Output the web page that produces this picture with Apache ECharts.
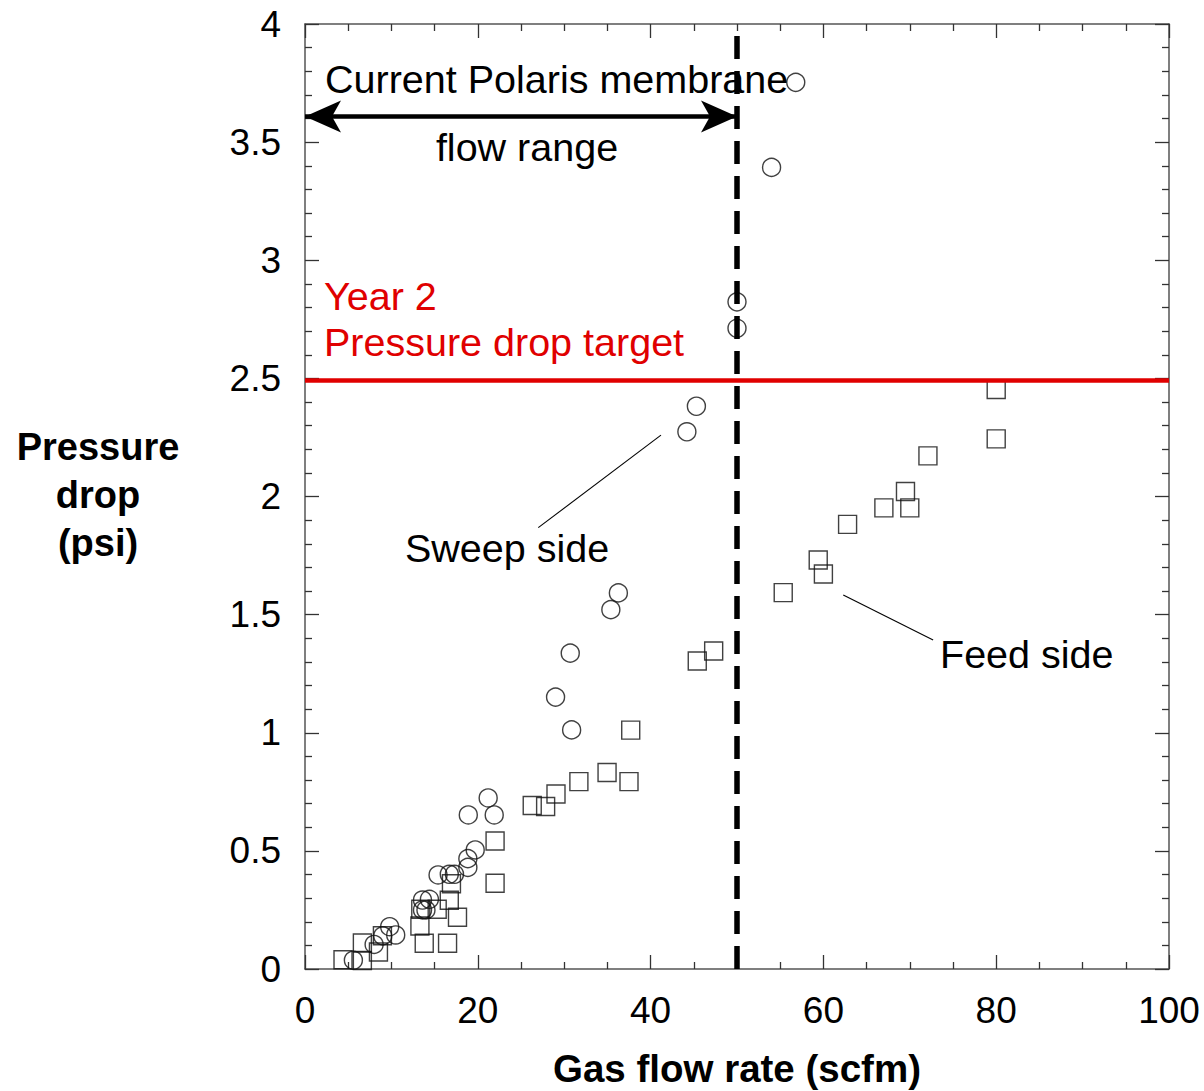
<!DOCTYPE html>
<html>
<head>
<meta charset="utf-8">
<script src="https://cdn.jsdelivr.net/npm/echarts@6/dist/echarts.min.js"></script>
<style>
html,body{margin:0;padding:0;background:#fff;}
#chart{width:1204px;height:1091px;}
</style>
</head>
<body>
<div id="chart"></div>
<script>
// ---- data ----
const sweepX = [5.6, 8.0, 9.0, 9.8, 10.5, 13.6, 14.4, 13.6, 14.0, 15.4, 16.7, 17.3, 18.85, 18.85, 19.7, 18.9, 21.9, 21.2, 30.86, 29.0, 30.7, 35.4, 36.27, 44.2, 45.3, 50.0, 50.0, 54.0, 56.8];
const sweepY = [0.037, 0.104, 0.14, 0.179, 0.144, 0.292, 0.295, 0.25, 0.25, 0.398, 0.401, 0.401, 0.43, 0.467, 0.504, 0.652, 0.652, 0.724, 1.012, 1.151, 1.337, 1.521, 1.592, 2.274, 2.382, 2.712, 2.824, 3.393, 3.753];
const feedX = [4.4, 6.64, 6.64, 8.5, 8.96, 13.3, 13.4, 15.3, 13.8, 16.5, 17.65, 16.7, 16.95, 22.0, 22.0, 26.3, 27.85, 29.05, 31.7, 34.96, 37.5, 37.7, 45.4, 47.3, 55.35, 59.4, 60.0, 62.8, 67.0, 70.0, 69.5, 72.1, 80.0, 80.0];
const feedY = [0.039, 0.036, 0.11, 0.072, 0.141, 0.182, 0.253, 0.253, 0.109, 0.109, 0.219, 0.291, 0.361, 0.363, 0.542, 0.692, 0.688, 0.741, 0.793, 0.832, 0.793, 1.011, 1.304, 1.346, 1.593, 1.731, 1.672, 1.882, 1.952, 1.952, 2.021, 2.172, 2.244, 2.453];
const targetY = 2.49;          // Year 2 pressure drop target
const currentRangeMax = 50;    // current Polaris membrane flow range limit
const arrowY = 3.608;
const sweepLeader = [[27.0, 1.868], [41.2, 2.26]];
const feedLeader = [[62.3, 1.583], [72.7, 1.393]];
const xTicks = [0, 20, 40, 60, 80, 100];
const yTicks = [0, 0.5, 1, 1.5, 2, 2.5, 3, 3.5, 4];

// ---- chart ----
const FONT = "'Liberation Sans', Arial, Helvetica, sans-serif";
const chart = echarts.init(document.getElementById('chart'), null, {renderer: 'svg'});
const axisLineStyle = {color: '#555', width: 1.5};
function xAxisCfg(pos, showLabel) {
  return {
    type: 'value', position: pos, min: xTicks[0], max: xTicks[xTicks.length - 1], interval: 20,
    axisLine: {show: true, onZero: false, lineStyle: axisLineStyle},
    axisTick: {show: true, inside: true, length: 14, lineStyle: {color: '#333', width: 1.3}},
    minorTick: {show: true, splitNumber: 4, length: 7, lineStyle: {color: '#333', width: 1.3}},
    splitLine: {show: false},
    axisLabel: {show: showLabel, fontSize: 37, fontFamily: FONT, color: '#000', margin: 23}
  };
}
function yAxisCfg(pos, showLabel) {
  return {
    type: 'value', position: pos, min: yTicks[0], max: yTicks[yTicks.length - 1], interval: 0.5,
    axisLine: {show: true, onZero: false, lineStyle: axisLineStyle},
    axisTick: {show: true, inside: true, length: 14, lineStyle: {color: '#333', width: 1.3}},
    minorTick: {show: true, splitNumber: 5, length: 7, lineStyle: {color: '#333', width: 1.3}},
    splitLine: {show: false},
    axisLabel: {show: showLabel, fontSize: 37, fontFamily: FONT, color: '#000', margin: 24}
  };
}
const sweepData = sweepX.map((x, i) => [x, sweepY[i]]);
const feedData = feedX.map((x, i) => [x, feedY[i]]);

chart.setOption({
  animation: false,
  backgroundColor: '#fff',
  grid: {left: 305, right: 35, top: 24, bottom: 122, containLabel: false},
  xAxis: [xAxisCfg('bottom', true), xAxisCfg('top', false)],
  yAxis: [yAxisCfg('left', true), yAxisCfg('right', false)],
  series: [
    {
      name: 'Feed side', type: 'scatter', data: feedData, symbol: 'rect', symbolSize: 18,
      itemStyle: {color: 'rgba(0,0,0,0)', borderColor: '#111', borderWidth: 1.4}, z: 3, silent: true
    },
    {
      name: 'Sweep side', type: 'scatter', data: sweepData, symbol: 'circle', symbolSize: 18,
      itemStyle: {color: 'rgba(0,0,0,0)', borderColor: '#111', borderWidth: 1.4}, z: 3, silent: true
    },
    {
      name: 'annotations', type: 'line', data: [], z: 5, silent: true,
      markLine: {
        silent: true, animation: false, symbol: 'none', label: {show: false},
        data: [
          [{coord: [xTicks[0], targetY], lineStyle: {color: '#e00000', width: 4.5, type: 'solid'}},
           {coord: [xTicks[xTicks.length - 1], targetY]}],
          [{coord: sweepLeader[0], lineStyle: {color: '#000', width: 1.1, type: 'solid'}}, {coord: sweepLeader[1]}],
          [{coord: feedLeader[0], lineStyle: {color: '#000', width: 1.1, type: 'solid'}}, {coord: feedLeader[1]}],
          [{coord: [currentRangeMax, yTicks[0]], lineStyle: {color: '#000', width: 5.5, type: [23, 12]}},
           {coord: [currentRangeMax, yTicks[yTicks.length - 1]]}]
        ]
      }
    },
    {
      name: 'arrow', type: 'line', data: [], z: 6, silent: true,
      markLine: {
        silent: true, animation: false, symbol: ['arrow', 'arrow'], symbolSize: [24, 36],
        label: {show: false},
        lineStyle: {color: '#000', width: 4.5, type: 'solid'},
        data: [[{coord: [xTicks[0], arrowY]}, {coord: [currentRangeMax, arrowY]}]]
      }
    }
  ],
  graphic: [
    {type: 'text', x: 325, y: 79, z: 10, style: {text: 'Current Polaris membrane', font: '39.5px ' + FONT, fill: '#000', verticalAlign: 'middle'}},
    {type: 'text', x: 527, y: 147, z: 10, style: {text: 'flow range', font: '39.5px ' + FONT, fill: '#000', align: 'center', verticalAlign: 'middle'}},
    {type: 'text', x: 324, y: 296, z: 10, style: {text: 'Year 2', font: '39.5px ' + FONT, fill: '#e00000', verticalAlign: 'middle'}},
    {type: 'text', x: 324, y: 342, z: 10, style: {text: 'Pressure drop target', font: '39.5px ' + FONT, fill: '#e00000', verticalAlign: 'middle'}},
    {type: 'text', x: 405, y: 548, z: 10, style: {text: 'Sweep side', font: '39.5px ' + FONT, fill: '#000', verticalAlign: 'middle'}},
    {type: 'text', x: 940, y: 654, z: 10, style: {text: 'Feed side', font: '39.5px ' + FONT, fill: '#000', verticalAlign: 'middle'}},
    {type: 'text', x: 98, y: 495, z: 10, style: {text: 'Pressure\ndrop\n(psi)', font: 'bold 38px ' + FONT, fill: '#000', align: 'center', verticalAlign: 'middle', lineHeight: 48}},
    {type: 'text', x: 737, y: 1068, z: 10, style: {text: 'Gas flow rate (scfm)', font: 'bold 38.5px ' + FONT, fill: '#000', align: 'center', verticalAlign: 'middle'}}
  ]
});
</script>
</body>
</html>
